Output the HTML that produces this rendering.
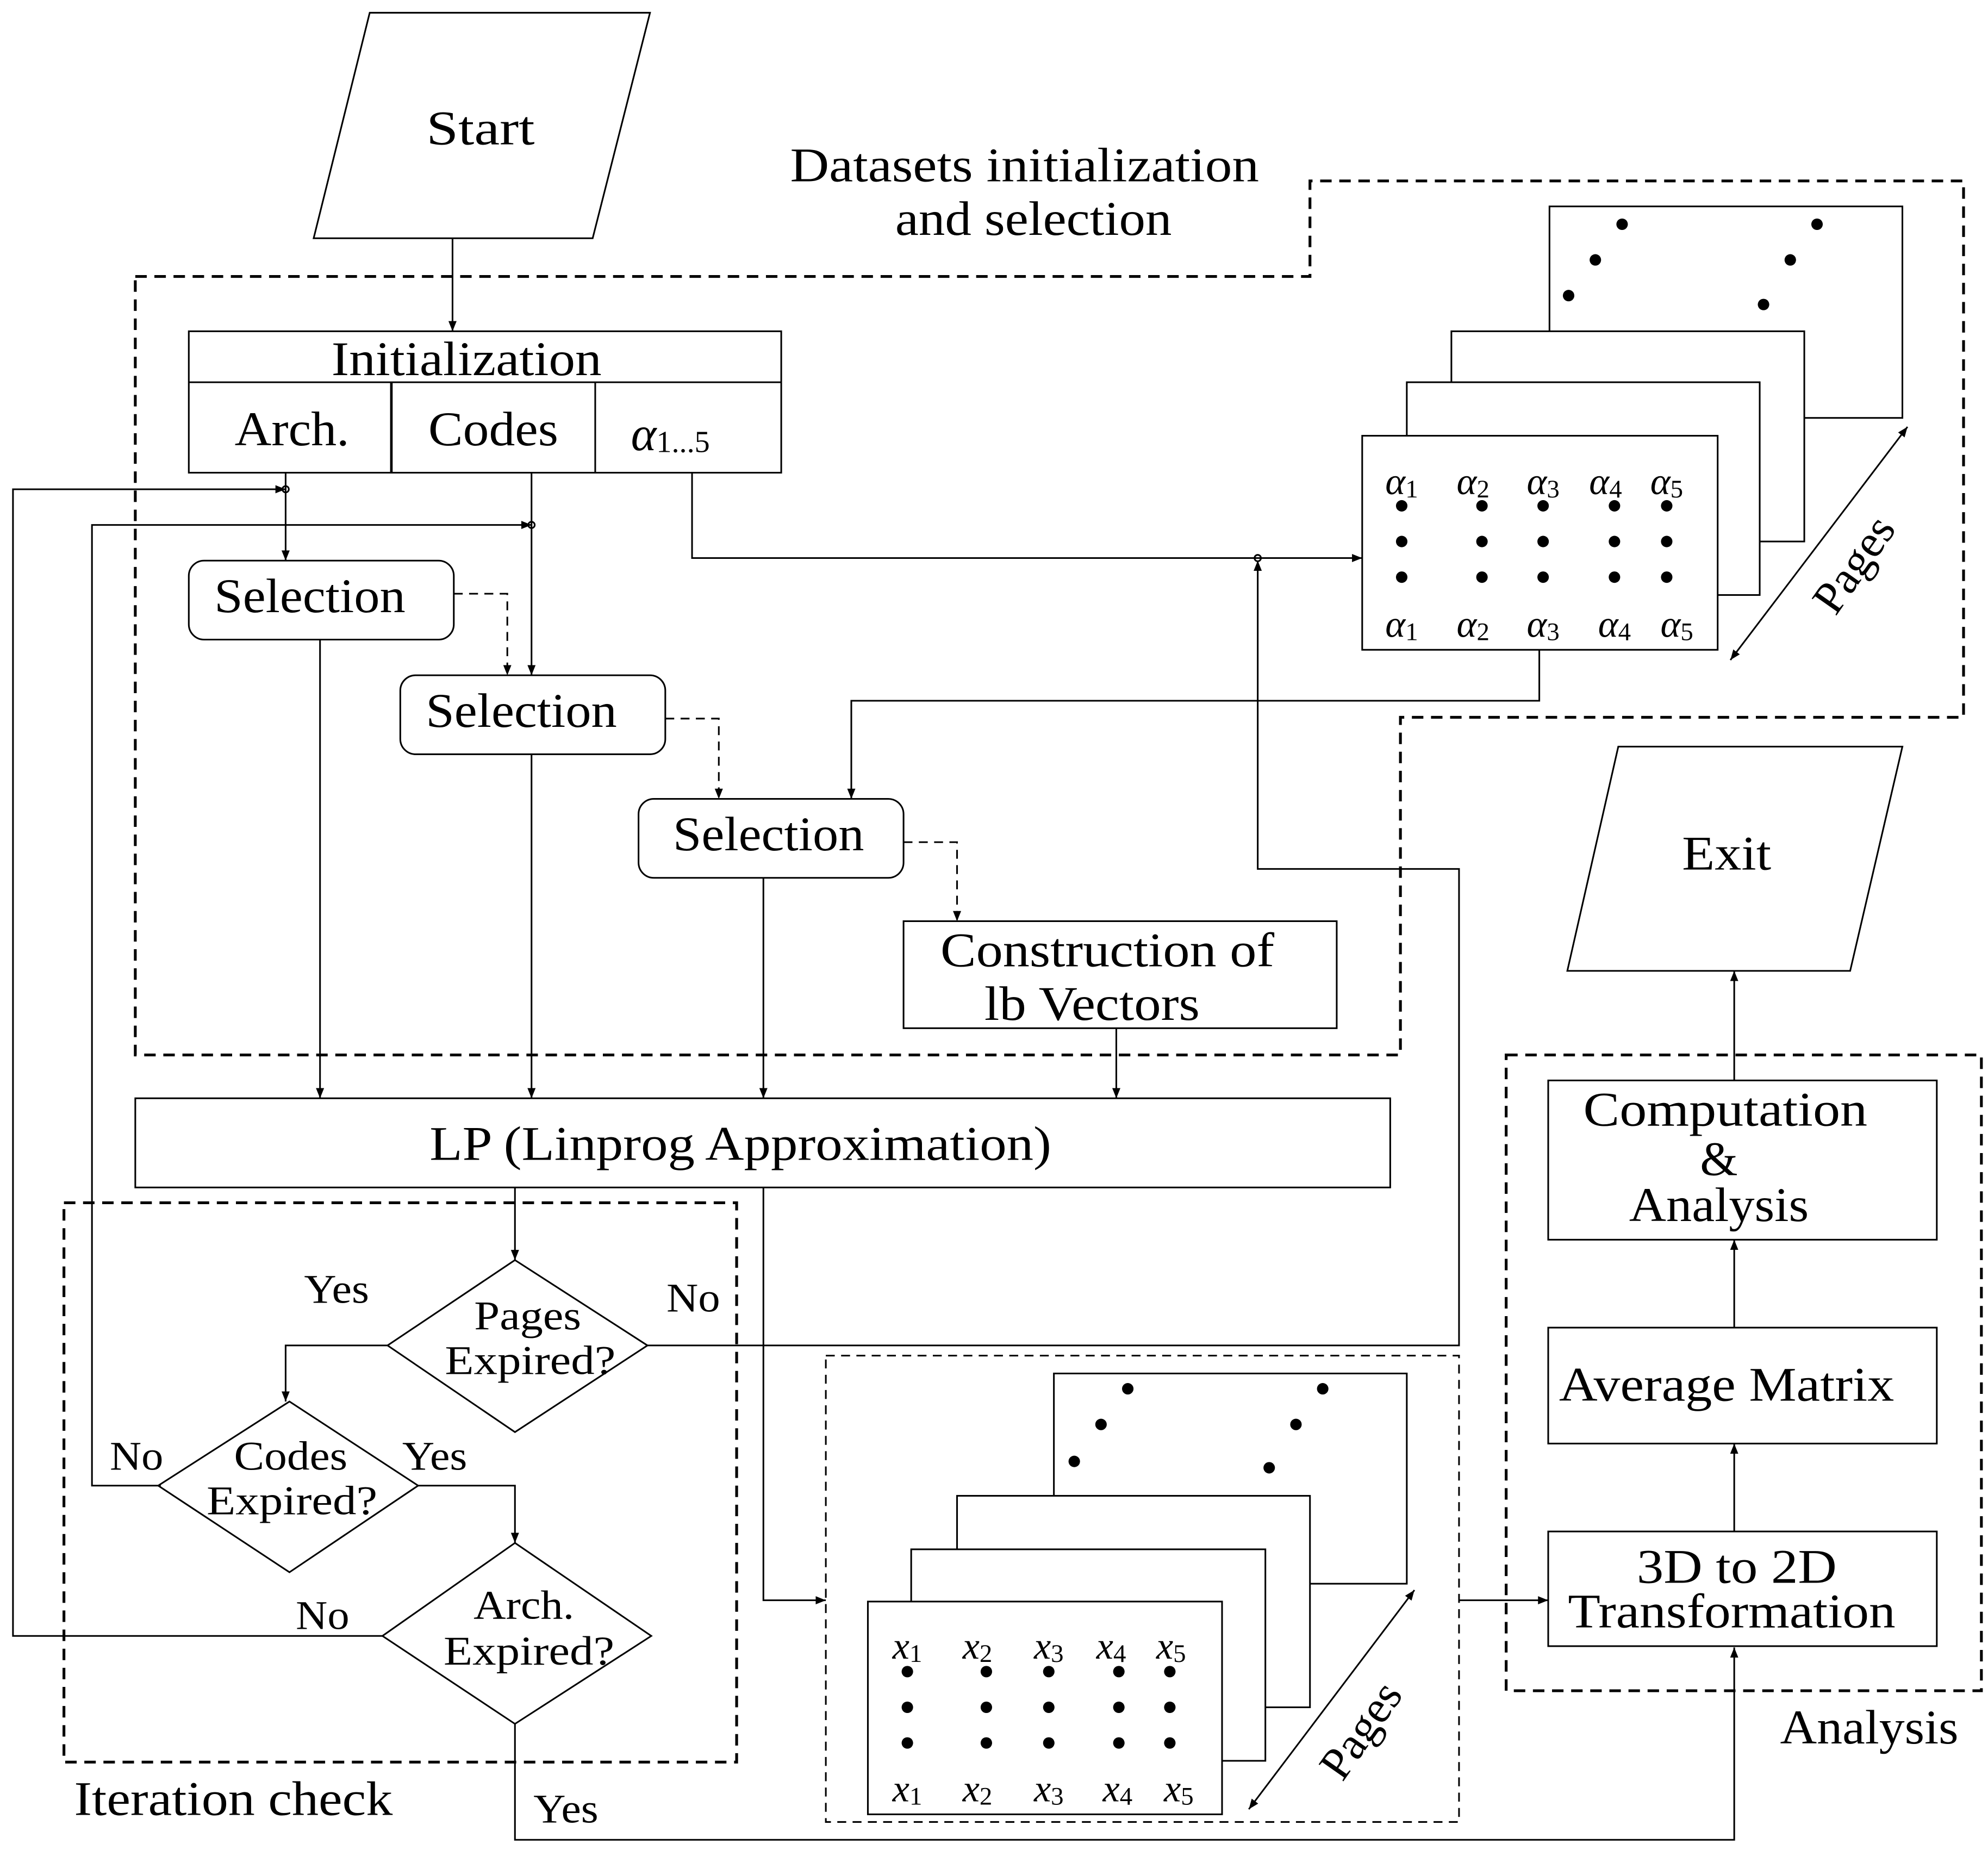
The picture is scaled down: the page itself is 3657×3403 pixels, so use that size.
<!DOCTYPE html>
<html><head><meta charset="utf-8"><style>
html,body{margin:0;padding:0;background:#fff;}
svg{display:block;}
text{font-family:"Liberation Serif",serif;fill:#000;}
</style></head><body>
<svg width="3657" height="3403" viewBox="0 0 1560 1452" xmlns="http://www.w3.org/2000/svg">
<defs>
<marker id="a" viewBox="0 0 10 10" refX="10" refY="5" markerWidth="8" markerHeight="8" orient="auto-start-reverse" markerUnits="userSpaceOnUse"><path d="M0,1 L10,5 L0,9 z" fill="#000"/></marker>
</defs>
<g fill="none" stroke="#000" stroke-width="1.3">
<polygon points="290,10 510,10 465,187 246,187"/>
<polygon points="106,217 1028,217 1028,142 1541,142 1541,563 1099,563 1099,828 106,828" stroke-width="2.2" stroke-dasharray="9,6"/>
<rect x="148" y="260" width="465" height="111"/>
<line x1="148" y1="300" x2="613" y2="300"/>
<line x1="307" y1="300" x2="307" y2="371" stroke-width="2"/>
<line x1="467" y1="300" x2="467" y2="371"/>
<line x1="355" y1="187" x2="355" y2="260" marker-end="url(#a)"/>
<line x1="224" y1="371" x2="224" y2="440" marker-end="url(#a)"/>
<line x1="417" y1="371" x2="417" y2="530" marker-end="url(#a)"/>
<polyline points="300,1284 10,1284 10,384 224,384" marker-end="url(#a)"/>
<polyline points="126,1166 72,1166 72,412 417,412" marker-end="url(#a)"/>
<circle cx="224" cy="384" r="2.5"/><circle cx="417" cy="412" r="2.5"/><circle cx="987" cy="438" r="2.5"/>
<polyline points="543,371 543,438 1069,438" marker-end="url(#a)"/>
<rect x="148" y="440" width="208" height="62" rx="12"/>
<rect x="314" y="530" width="208" height="62" rx="12"/>
<rect x="501" y="627" width="208" height="62" rx="12"/>
<g stroke-dasharray="7,5">
<polyline points="356,466 398,466 398,530" marker-end="url(#a)"/>
<polyline points="522,564 564,564 564,627" marker-end="url(#a)"/>
<polyline points="709,661 751,661 751,723" marker-end="url(#a)"/>
</g>
<rect x="709" y="723" width="340" height="84"/>
<line x1="251" y1="502" x2="251" y2="862" marker-end="url(#a)"/>
<line x1="417" y1="592" x2="417" y2="862" marker-end="url(#a)"/>
<line x1="599" y1="689" x2="599" y2="862" marker-end="url(#a)"/>
<line x1="876" y1="807" x2="876" y2="862" marker-end="url(#a)"/>
<rect x="106" y="862" width="985" height="70"/>
<rect x="50" y="944" width="528" height="439" stroke-width="2.2" stroke-dasharray="9,6"/>
<line x1="404" y1="932" x2="404" y2="989" marker-end="url(#a)"/>
<polygon points="404,989 508,1056 404,1124 304,1056"/>
<polyline points="508,1056 1145,1056 1145,682 987,682 987,440" marker-end="url(#a)"/>
<polyline points="304,1056 224,1056 224,1100" marker-end="url(#a)"/>
<polygon points="227,1100 328,1166 227,1234 124,1166"/>
<polyline points="328,1166 404,1166 404,1211" marker-end="url(#a)"/>
<polygon points="404,1211 511,1284 404,1353 300,1284"/>
<polyline points="404,1353 404,1444 1361,1444 1361,1293" marker-end="url(#a)"/>
<polyline points="599,932 599,1256 648,1256" marker-end="url(#a)"/>
<rect x="648" y="1064" width="497" height="366" stroke-dasharray="7,5"/>
<rect x="827" y="1078" width="277" height="165" fill="#fff"/>
<rect x="751" y="1174" width="277" height="166" fill="#fff"/>
<rect x="715" y="1216" width="278" height="166" fill="#fff"/>
<rect x="681" y="1257" width="278" height="167" fill="#fff"/>
<line x1="980" y1="1420" x2="1110" y2="1248" marker-start="url(#a)" marker-end="url(#a)"/>
<line x1="1145" y1="1256" x2="1215" y2="1256" marker-end="url(#a)"/>
<rect x="1216" y="162" width="277" height="166" fill="#fff"/>
<rect x="1139" y="260" width="277" height="165" fill="#fff"/>
<rect x="1104" y="300" width="277" height="167" fill="#fff"/>
<rect x="1069" y="342" width="279" height="168" fill="#fff"/>
<line x1="1358" y1="518" x2="1497" y2="335" marker-start="url(#a)" marker-end="url(#a)"/>
<polyline points="1208,510 1208,550 668,550 668,627" marker-end="url(#a)"/>
<polygon points="1270,586 1493,586 1452,762 1230,762"/>
<rect x="1182" y="828" width="373" height="499" stroke-width="2.2" stroke-dasharray="9,6"/>
<rect x="1215" y="848" width="305" height="125"/>
<rect x="1215" y="1042" width="305" height="91"/>
<rect x="1215" y="1202" width="305" height="90"/>
<line x1="1361" y1="1202" x2="1361" y2="1133" marker-end="url(#a)"/>
<line x1="1361" y1="1042" x2="1361" y2="973" marker-end="url(#a)"/>
<line x1="1361" y1="848" x2="1361" y2="762" marker-end="url(#a)"/>
</g>
<g fill="#000">
<circle cx="885" cy="1090" r="4.5"/><circle cx="864" cy="1118" r="4.5"/><circle cx="843" cy="1147" r="4.5"/>
<circle cx="1038" cy="1090" r="4.5"/><circle cx="1017" cy="1118" r="4.5"/><circle cx="996" cy="1152" r="4.5"/>
<circle cx="1273" cy="176" r="4.5"/><circle cx="1252" cy="204" r="4.5"/><circle cx="1231" cy="232" r="4.5"/>
<circle cx="1426" cy="176" r="4.5"/><circle cx="1405" cy="204" r="4.5"/><circle cx="1384" cy="239" r="4.5"/>
<circle cx="712" cy="1312" r="4.5"/><circle cx="774" cy="1312" r="4.5"/><circle cx="823" cy="1312" r="4.5"/><circle cx="878" cy="1312" r="4.5"/><circle cx="918" cy="1312" r="4.5"/>
<circle cx="712" cy="1340" r="4.5"/><circle cx="774" cy="1340" r="4.5"/><circle cx="823" cy="1340" r="4.5"/><circle cx="878" cy="1340" r="4.5"/><circle cx="918" cy="1340" r="4.5"/>
<circle cx="712" cy="1368" r="4.5"/><circle cx="774" cy="1368" r="4.5"/><circle cx="823" cy="1368" r="4.5"/><circle cx="878" cy="1368" r="4.5"/><circle cx="918" cy="1368" r="4.5"/>
<circle cx="1100" cy="397" r="4.5"/><circle cx="1163" cy="397" r="4.5"/><circle cx="1211" cy="397" r="4.5"/><circle cx="1267" cy="397" r="4.5"/><circle cx="1308" cy="397" r="4.5"/>
<circle cx="1100" cy="425" r="4.5"/><circle cx="1163" cy="425" r="4.5"/><circle cx="1211" cy="425" r="4.5"/><circle cx="1267" cy="425" r="4.5"/><circle cx="1308" cy="425" r="4.5"/>
<circle cx="1100" cy="453" r="4.5"/><circle cx="1163" cy="453" r="4.5"/><circle cx="1211" cy="453" r="4.5"/><circle cx="1267" cy="453" r="4.5"/><circle cx="1308" cy="453" r="4.5"/>
</g>
<g text-anchor="middle" dominant-baseline="central" font-size="38" lengthAdjust="spacingAndGlyphs">
<text x="377" y="101" textLength="85" lengthAdjust="spacingAndGlyphs">Start</text>
<text x="804" y="130" textLength="368" lengthAdjust="spacingAndGlyphs">Datasets initialization</text>
<text x="811" y="172" textLength="217" lengthAdjust="spacingAndGlyphs">and selection</text>
<text x="366" y="282" textLength="212" lengthAdjust="spacingAndGlyphs">Initialization</text>
<text x="229" y="337" textLength="90" lengthAdjust="spacingAndGlyphs">Arch.</text>
<text x="387" y="337" textLength="102" lengthAdjust="spacingAndGlyphs">Codes</text>
<text x="526" y="341"><tspan font-style="italic">α</tspan><tspan font-size="24" dy="6">1...5</tspan></text>
<text x="243" y="468" textLength="150" lengthAdjust="spacingAndGlyphs">Selection</text>
<text x="409" y="558" textLength="150" lengthAdjust="spacingAndGlyphs">Selection</text>
<text x="603" y="655" textLength="150" lengthAdjust="spacingAndGlyphs">Selection</text>
<text x="869" y="746" textLength="262" lengthAdjust="spacingAndGlyphs">Construction of</text>
<text x="857" y="788" textLength="169" lengthAdjust="spacingAndGlyphs">lb Vectors</text>
<text x="581" y="898" textLength="488" lengthAdjust="spacingAndGlyphs">LP (Linprog Approximation)</text>
<text x="1355" y="670" textLength="70" lengthAdjust="spacingAndGlyphs">Exit</text>
<text x="1354" y="871" textLength="223" lengthAdjust="spacingAndGlyphs">Computation</text>
<text x="1349" y="910">&amp;</text>
<text x="1349" y="946" textLength="141" lengthAdjust="spacingAndGlyphs">Analysis</text>
<text x="1355" y="1087" textLength="263" lengthAdjust="spacingAndGlyphs">Average Matrix</text>
<text x="1363" y="1230" textLength="157" lengthAdjust="spacingAndGlyphs">3D to 2D</text>
<text x="1359" y="1265" textLength="257" lengthAdjust="spacingAndGlyphs">Transformation</text>
<text x="1467" y="1356" textLength="140" lengthAdjust="spacingAndGlyphs">Analysis</text>
<text x="183" y="1412" textLength="250" lengthAdjust="spacingAndGlyphs">Iteration check</text>
</g>
<g text-anchor="middle" dominant-baseline="central" font-size="32">
<text x="414" y="1033" textLength="84" lengthAdjust="spacingAndGlyphs">Pages</text>
<text x="416" y="1068" textLength="134" lengthAdjust="spacingAndGlyphs">Expired?</text>
<text x="228" y="1143" textLength="89" lengthAdjust="spacingAndGlyphs">Codes</text>
<text x="229" y="1178" textLength="134" lengthAdjust="spacingAndGlyphs">Expired?</text>
<text x="411" y="1260" textLength="79" lengthAdjust="spacingAndGlyphs">Arch.</text>
<text x="415" y="1296" textLength="134" lengthAdjust="spacingAndGlyphs">Expired?</text>
<text x="264" y="1012" textLength="51" lengthAdjust="spacingAndGlyphs">Yes</text>
<text x="544" y="1019" textLength="42" lengthAdjust="spacingAndGlyphs">No</text>
<text x="107" y="1143" textLength="42" lengthAdjust="spacingAndGlyphs">No</text>
<text x="341" y="1143" textLength="51" lengthAdjust="spacingAndGlyphs">Yes</text>
<text x="253" y="1268" textLength="42" lengthAdjust="spacingAndGlyphs">No</text>
<text x="444" y="1420" textLength="51" lengthAdjust="spacingAndGlyphs">Yes</text>
<text x="1068" y="1358" font-size="36" transform="rotate(-55 1068 1358)">Pages</text>
<text x="1455" y="443" font-size="36" transform="rotate(-55 1455 443)">Pages</text>
</g>
<g text-anchor="middle" dominant-baseline="central" font-size="30" font-style="italic">
<text x="712" y="1292">x<tspan font-size="20" dy="6" font-style="normal">1</tspan></text>
<text x="767" y="1292">x<tspan font-size="20" dy="6" font-style="normal">2</tspan></text>
<text x="823" y="1292">x<tspan font-size="20" dy="6" font-style="normal">3</tspan></text>
<text x="872" y="1292">x<tspan font-size="20" dy="6" font-style="normal">4</tspan></text>
<text x="919" y="1292">x<tspan font-size="20" dy="6" font-style="normal">5</tspan></text>
<text x="712" y="1404">x<tspan font-size="20" dy="6" font-style="normal">1</tspan></text>
<text x="767" y="1404">x<tspan font-size="20" dy="6" font-style="normal">2</tspan></text>
<text x="823" y="1404">x<tspan font-size="20" dy="6" font-style="normal">3</tspan></text>
<text x="877" y="1404">x<tspan font-size="20" dy="6" font-style="normal">4</tspan></text>
<text x="925" y="1404">x<tspan font-size="20" dy="6" font-style="normal">5</tspan></text>
<text x="1100" y="378">α<tspan font-size="20" dy="6" font-style="normal">1</tspan></text>
<text x="1156" y="378">α<tspan font-size="20" dy="6" font-style="normal">2</tspan></text>
<text x="1211" y="378">α<tspan font-size="20" dy="6" font-style="normal">3</tspan></text>
<text x="1260" y="378">α<tspan font-size="20" dy="6" font-style="normal">4</tspan></text>
<text x="1308" y="378">α<tspan font-size="20" dy="6" font-style="normal">5</tspan></text>
<text x="1100" y="490">α<tspan font-size="20" dy="6" font-style="normal">1</tspan></text>
<text x="1156" y="490">α<tspan font-size="20" dy="6" font-style="normal">2</tspan></text>
<text x="1211" y="490">α<tspan font-size="20" dy="6" font-style="normal">3</tspan></text>
<text x="1267" y="490">α<tspan font-size="20" dy="6" font-style="normal">4</tspan></text>
<text x="1316" y="490">α<tspan font-size="20" dy="6" font-style="normal">5</tspan></text>
</g>
</svg>
</body></html>
